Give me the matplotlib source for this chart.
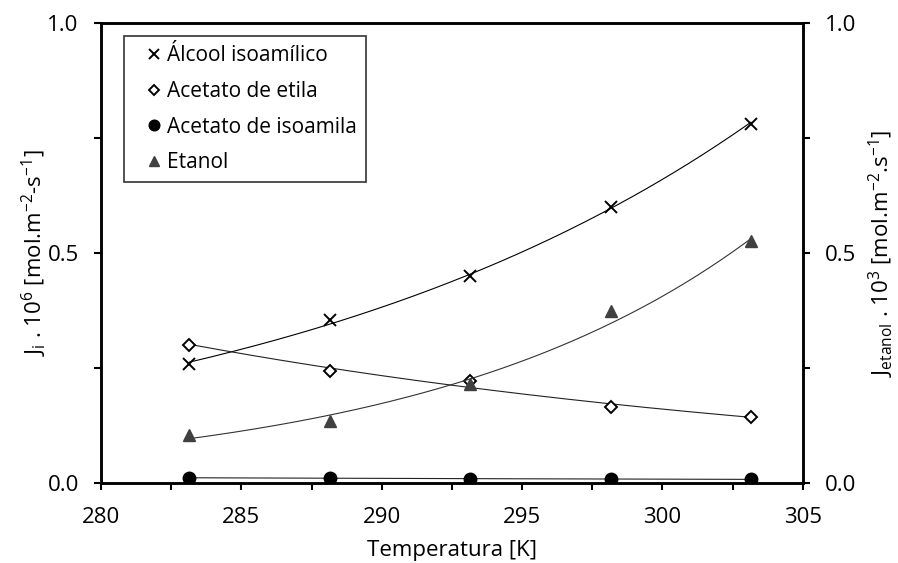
import numpy as np
import matplotlib.pyplot as plt
from matplotlib.ticker import MultipleLocator

plt.rcParams['font.family'] = ['Open Sans', 'DejaVu Sans']

# temperaturas [K]
T = [283.15, 288.15, 293.15, 298.15, 303.15]

# fluxos J_i . 10^6
alcool_isoamilico = [0.259, 0.354, 0.450, 0.600, 0.780]
acetato_etila = [0.300, 0.244, 0.222, 0.166, 0.143]
acetato_isoamila = [0.0115, 0.0105, 0.0095, 0.0088, 0.0080]
# fluxo do etanol J . 10^3 (eixo secundario)
etanol = [0.104, 0.135, 0.215, 0.374, 0.527]


def tendencia(x, y):
    # linha de tendencia exponencial
    b, a = np.polyfit(x, np.log(y), 1)
    xs = np.linspace(min(x), max(x), 200)
    return xs, np.exp(a + b * xs)


fig = plt.figure(figsize=(8.98, 5.63), dpi=100)
ax = fig.add_axes([0.1125, 0.142, 0.7815, 0.817])
ax2 = ax.twinx()

lw = 0.8
for serie, cor in [(alcool_isoamilico, 'black'), (acetato_etila, '#222222'),
                   (acetato_isoamila, '#222222')]:
    xs, ys = tendencia(T, serie)
    ax.plot(xs, ys, color=cor, lw=lw, zorder=2)
xs, ys = tendencia(T, etanol)
ax2.plot(xs, ys, color='#333333', lw=lw, zorder=2)

h1, = ax.plot(T, alcool_isoamilico, ls='none', marker='x', ms=9, mew=1.4,
              color='black', label='Álcool isoamílico', zorder=3)
h2, = ax.plot(T, acetato_etila, ls='none', marker='D', ms=6, mew=1.4,
              mfc='white', mec='black', label='Acetato de etila', zorder=3)
h3, = ax.plot(T, acetato_isoamila, ls='none', marker='o', ms=9,
              color='black', label='Acetato de isoamila', zorder=3)
h4, = ax2.plot(T, etanol, ls='none', marker='^', ms=9,
               color='#404040', label='Etanol', zorder=3)

for a in (ax, ax2):
    a.set_xlim(280, 305)
    a.set_ylim(0, 1)
    a.yaxis.set_major_locator(MultipleLocator(0.5))
    a.yaxis.set_minor_locator(MultipleLocator(0.25))
    a.tick_params(which='both', direction='out', labelsize=16, width=1.5,
                  length=5)
    for s in a.spines.values():
        s.set_linewidth(1.8)
    a.yaxis.set_major_formatter(plt.FormatStrFormatter('%.1f'))

ax.xaxis.set_major_locator(MultipleLocator(5))
ax.xaxis.set_minor_locator(MultipleLocator(2.5))
ax.tick_params(axis='y', pad=11)
ax2.tick_params(axis='y', pad=11)
ax.tick_params(axis='x', pad=12)

ax.set_xlabel('Temperatura [K]', fontsize=16, labelpad=9)
ax.set_ylabel('J$_\\mathregular{i}$ . 10$^\\mathregular{6}$ [mol.m$^\\mathregular{-2}$-s$^\\mathregular{-1}$]',
              fontsize=16, labelpad=-1)
ax2.set_ylabel('J$_\\mathregular{etanol}$ . 10$^\\mathregular{3}$ [mol.m$^\\mathregular{-2}$.s$^\\mathregular{-1}$]',
               fontsize=16, rotation=90, labelpad=7.5)

leg = ax2.legend(handles=[h1, h2, h3, h4], loc='upper left',
                 bbox_to_anchor=(0.033, 0.972), borderaxespad=0, fontsize=15,
                 frameon=True, fancybox=False, edgecolor='black',
                 handlelength=2.0, handletextpad=-0.4, borderpad=0.45,
                 labelspacing=0.7, markerscale=0.85)
leg.get_frame().set_linewidth(1.2)

fig.savefig('out.png', dpi=100)
